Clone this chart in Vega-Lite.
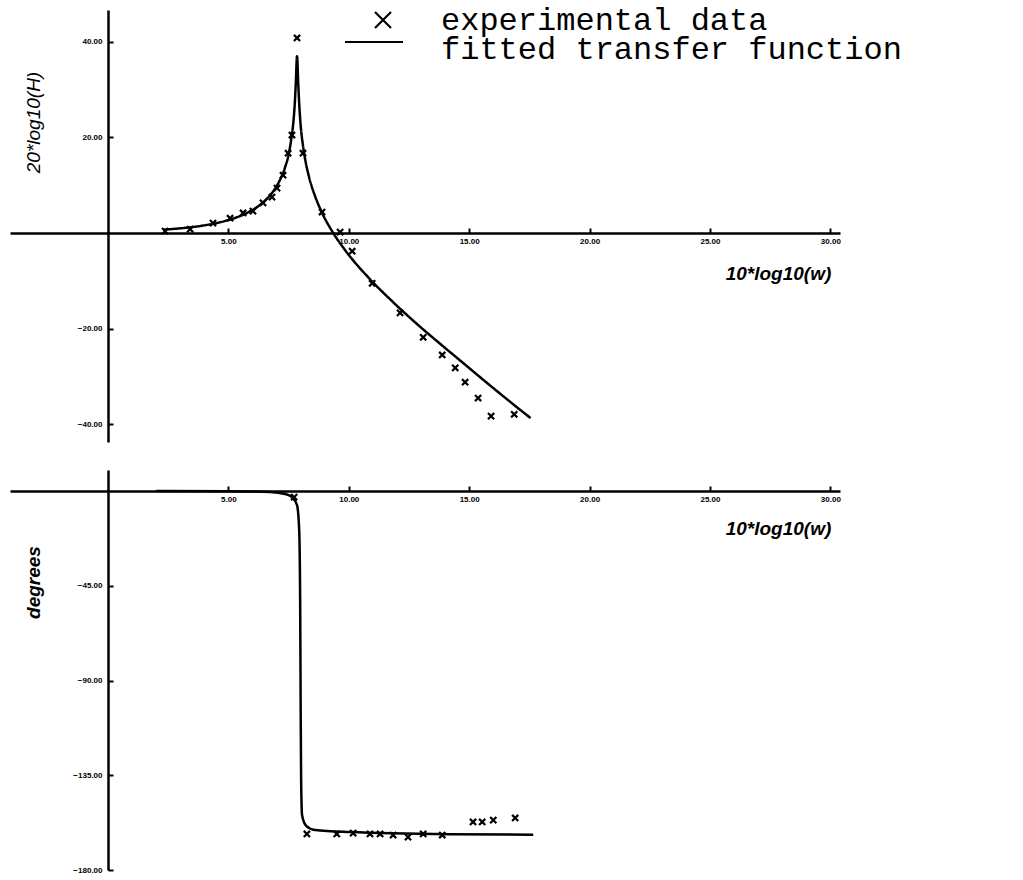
{
  "$schema": "https://vega.github.io/schema/vega-lite/v6.json",
  "background": "white",
  "padding": {"left": 10, "top": 4, "right": 5, "bottom": 5},
  "spacing": 28,
  "bounds": "flush",
  "config": {
    "view": {"stroke": null},
    "axis": {
      "grid": false,
      "domainColor": "black",
      "domainWidth": 2.5,
      "tickColor": "black",
      "tickWidth": 2,
      "tickSize": -5,
      "labelColor": "black",
      "labelFont": "Liberation Sans",
      "labelFontSize": 8,
      "labelFontWeight": "bold",
      "labelFlush": false,
      "labelOverlap": false,
      "titleColor": "black",
      "titleFont": "Liberation Sans",
      "titleFontSize": 19,
      "titleFontStyle": "italic",
      "titleAlign": "center",
      "titleBaseline": "middle"
    },
    "legend": {
      "orient": "none",
      "padding": 0,
      "symbolOffset": 0,
      "symbolSize": 400,
      "symbolStrokeWidth": 2.2,
      "symbolStrokeColor": "black",
      "symbolFillColor": "transparent",
      "labelFont": "Liberation Mono",
      "labelFontSize": 32,
      "labelColor": "black",
      "labelOffset": 42,
      "labelLimit": 0,
      "rowPadding": 0
    }
  },
  "datasets": {
    "magfit": [
      {"w": 2.3, "db": 0.7}, {"w": 2.85, "db": 0.92}, {"w": 3.85, "db": 1.49}, {"w": 4.85, "db": 2.51},
      {"w": 5.35, "db": 3.3}, {"w": 5.85, "db": 4.41}, {"w": 6.35, "db": 6.04}, {"w": 6.85, "db": 8.66},
      {"w": 7.1, "db": 10.7}, {"w": 7.35, "db": 13.7}, {"w": 7.5, "db": 16.4}, {"w": 7.6, "db": 19.3},
      {"w": 7.7, "db": 23.3}, {"w": 7.75, "db": 26.5}, {"w": 7.8, "db": 31.4}, {"w": 7.85, "db": 37.0},
      {"w": 7.9, "db": 31.3}, {"w": 7.95, "db": 26.2}, {"w": 8.0, "db": 22.6}, {"w": 8.1, "db": 18.2},
      {"w": 8.2, "db": 15.1}, {"w": 8.35, "db": 11.7}, {"w": 8.6, "db": 7.7}, {"w": 8.85, "db": 4.66},
      {"w": 9.35, "db": 0.04}, {"w": 9.85, "db": -3.59}, {"w": 10.85, "db": -9.49}, {"w": 11.85, "db": -14.5},
      {"w": 12.85, "db": -19.1}, {"w": 13.85, "db": -23.4}, {"w": 14.85, "db": -27.6}, {"w": 15.85, "db": -31.8},
      {"w": 16.85, "db": -35.9}, {"w": 17.55, "db": -38.7}
    ],
    "mag": [
      {"w": 2.37, "db": 0.4}, {"w": 3.41, "db": 0.8}, {"w": 4.36, "db": 2.1}, {"w": 5.07, "db": 3.1},
      {"w": 5.61, "db": 4.2}, {"w": 6.02, "db": 4.6}, {"w": 6.44, "db": 6.3}, {"w": 6.81, "db": 7.5},
      {"w": 7.02, "db": 9.4}, {"w": 7.27, "db": 12.1}, {"w": 7.48, "db": 16.7}, {"w": 7.64, "db": 20.5},
      {"w": 7.85, "db": 40.8}, {"w": 8.1, "db": 16.7}, {"w": 8.89, "db": 4.4}, {"w": 9.64, "db": 0.2},
      {"w": 10.14, "db": -3.8}, {"w": 10.97, "db": -10.5}, {"w": 12.13, "db": -16.7}, {"w": 13.09, "db": -21.8},
      {"w": 13.88, "db": -25.5}, {"w": 14.42, "db": -28.2}, {"w": 14.83, "db": -31.2}, {"w": 15.37, "db": -34.5},
      {"w": 15.91, "db": -38.3}, {"w": 16.87, "db": -37.9}
    ],
    "phasefit": [
      {"w": 2.0, "deg": 0}, {"w": 5.0, "deg": -0.1}, {"w": 6.73, "deg": -0.5}, {"w": 7.35, "deg": -1.4},
      {"w": 7.64, "deg": -2.9}, {"w": 7.85, "deg": -6.7}, {"w": 7.94, "deg": -18.5}, {"w": 7.98, "deg": -51.8},
      {"w": 8.0, "deg": -99}, {"w": 8.02, "deg": -137}, {"w": 8.06, "deg": -154}, {"w": 8.23, "deg": -159},
      {"w": 8.6, "deg": -161}, {"w": 10.05, "deg": -162}, {"w": 14.2, "deg": -163}, {"w": 17.66, "deg": -163.2}
    ],
    "phase": [
      {"w": 7.73, "deg": -2.9}, {"w": 8.26, "deg": -162.9}, {"w": 9.5, "deg": -162.9}, {"w": 10.18, "deg": -162.5},
      {"w": 10.88, "deg": -162.9}, {"w": 11.3, "deg": -162.9}, {"w": 11.84, "deg": -163.4}, {"w": 12.46, "deg": -164.4},
      {"w": 13.09, "deg": -162.9}, {"w": 13.88, "deg": -163.4}, {"w": 15.16, "deg": -157.2}, {"w": 15.54, "deg": -157.2},
      {"w": 16.0, "deg": -156.3}, {"w": 16.91, "deg": -155.3}
    ]
  },
  "vconcat": [
    {
      "width": 830,
      "height": 432,
      "layer": [
        {
          "data": {"name": "magfit"},
          "mark": {"type": "line", "color": "black", "strokeWidth": 2.5, "interpolate": "monotone"},
          "encoding": {
            "x": {"field": "w", "type": "quantitative",
              "scale": {"domain": [-4.07, 30.4], "nice": false, "zero": false},
              "axis": {"title": "10*log10(w)", "offset": -209, "values": [5, 10, 15, 20, 25, 30], "format": ".2f",
                "labelPadding": 9, "titleX": 768, "titleY": 40, "titleFontWeight": "bold"}},
            "y": {"field": "db", "type": "quantitative",
              "scale": {"domain": [-43.7, 46.65], "nice": false, "zero": false},
              "axis": {"title": "20*log10(H)", "orient": "left", "offset": -98, "values": [-40, -20, 20, 40], "format": ".2f",
                "labelPadding": 11, "titleX": -75, "titleY": 112, "titleFontWeight": "normal"}},
            "strokeDash": {"datum": "fitted transfer function", "type": "nominal",
              "scale": {"domain": ["fitted transfer function"], "range": [[1, 0]]},
              "legend": {"title": null, "legendX": 357, "legendY": 23, "symbolType": "M-3.8,-0.7L2.0,-0.7"}}
          }
        },
        {
          "data": {"name": "mag"},
          "mark": {"type": "point", "color": "black", "filled": false, "strokeWidth": 2.2, "size": 60, "opacity": 1},
          "encoding": {
            "x": {"field": "w", "type": "quantitative"},
            "y": {"field": "db", "type": "quantitative"},
            "shape": {"datum": "experimental data", "type": "nominal",
              "scale": {"domain": ["experimental data"], "range": ["M-0.8,-0.8L0.8,0.8M-0.8,0.8L0.8,-0.8"]},
              "legend": {"title": null, "legendX": 357, "legendY": -6}}
          }
        }
      ]
    },
    {
      "width": 830,
      "height": 400,
      "layer": [
        {
          "data": {"name": "phasefit"},
          "mark": {"type": "line", "color": "black", "strokeWidth": 2.5, "interpolate": "monotone"},
          "encoding": {
            "x": {"field": "w", "type": "quantitative",
              "scale": {"domain": [-4.07, 30.4], "nice": false, "zero": false},
              "axis": {"title": "10*log10(w)", "offset": -379, "values": [5, 10, 15, 20, 25, 30], "format": ".2f",
                "labelPadding": 9, "titleX": 768, "titleY": 37, "titleFontWeight": "bold"}},
            "y": {"field": "deg", "type": "quantitative",
              "scale": {"domain": [-180, 9.98], "nice": false, "zero": false},
              "axis": {"title": "degrees", "orient": "left", "offset": -98, "values": [-45, -90, -135, -180], "format": ".2f",
                "labelPadding": 11, "titleX": -75, "titleY": 112, "titleFontWeight": "bold"}}
          }
        },
        {
          "data": {"name": "phase"},
          "mark": {"type": "point", "color": "black", "filled": false, "strokeWidth": 2.2, "size": 60, "opacity": 1,
            "shape": "M-0.8,-0.8L0.8,0.8M-0.8,0.8L0.8,-0.8"},
          "encoding": {
            "x": {"field": "w", "type": "quantitative"},
            "y": {"field": "deg", "type": "quantitative"}
          }
        }
      ]
    }
  ]
}
